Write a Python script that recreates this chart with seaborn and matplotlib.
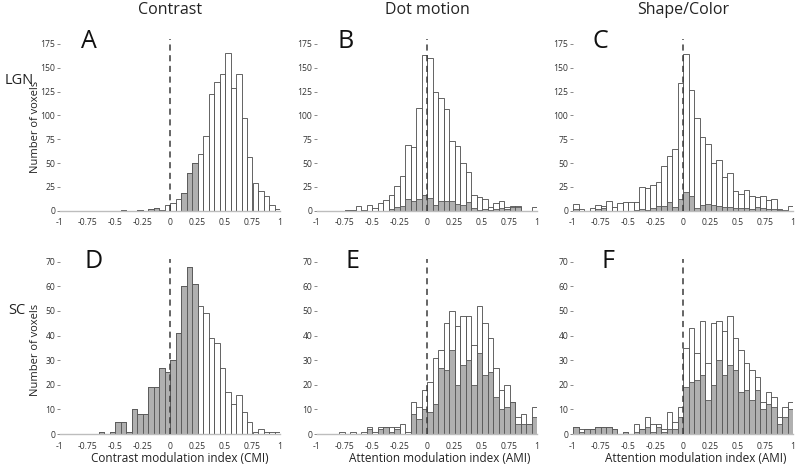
import numpy as np
import pandas as pd
import matplotlib
matplotlib.use("Agg")
import matplotlib.pyplot as plt
import seaborn as sns

# bin edges: -1 .. 1 in steps of 0.05 (40 bins)
edges = np.round(np.arange(-1, 1.0001, 0.05), 2)
centers = (edges[:-1] + edges[1:]) / 2

# LGN (top row), counts per bin: all voxels (white) and significant voxels (gray)
lgn_contrast_all = [0, 0, 0, 0, 0, 0, 0, 0, 0, 0, 0, 1, 0, 0, 1, 0, 2, 3, 1, 6,
                    8, 12, 19, 40, 50, 59, 78, 122, 135, 143, 166, 129, 143, 97, 56, 29, 21, 15, 6, 2]
lgn_contrast_sig = [0, 0, 0, 0, 0, 0, 0, 0, 0, 0, 0, 1, 0, 0, 1, 0, 2, 3, 0, 0,
                    0, 0, 19, 40, 50, 0, 0, 0, 0, 0, 0, 0, 0, 0, 0, 0, 0, 0, 0, 0]
lgn_motion_all = [0, 0, 0, 0, 0, 1, 1, 5, 1, 6, 3, 8, 11, 16, 26, 36, 69, 67, 108, 163,
                  160, 125, 118, 107, 73, 68, 50, 41, 16, 14, 12, 4, 8, 10, 4, 5, 5, 0, 0, 4]
lgn_motion_sig = [0, 0, 0, 0, 0, 1, 1, 0, 0, 0, 0, 0, 0, 2, 4, 5, 12, 10, 12, 16,
                  13, 6, 10, 10, 10, 7, 6, 9, 3, 1, 2, 1, 2, 3, 2, 4, 4, 0, 0, 0]
lgn_shape_all = [7, 2, 0, 3, 6, 5, 10, 4, 8, 9, 9, 9, 25, 24, 27, 30, 47, 57, 65, 134,
                 165, 127, 97, 77, 70, 50, 53, 35, 40, 21, 18, 22, 15, 14, 15, 11, 12, 2, 1, 5]
lgn_shape_sig = [2, 0, 0, 0, 2, 3, 0, 0, 0, 0, 0, 1, 2, 1, 3, 5, 5, 9, 4, 12,
                 20, 15, 3, 6, 7, 6, 5, 4, 4, 3, 3, 3, 2, 4, 3, 2, 2, 1, 0, 0]

# SC (bottom row)
sc_contrast_all = [0, 0, 0, 0, 0, 0, 0, 1, 0, 1, 5, 5, 1, 10, 8, 8, 19, 19, 27, 25,
                   30, 41, 60, 68, 61, 52, 49, 39, 37, 27, 17, 12, 16, 9, 5, 1, 2, 1, 1, 1]
sc_contrast_sig = [0, 0, 0, 0, 0, 0, 0, 1, 0, 1, 5, 5, 1, 10, 8, 8, 19, 19, 27, 25,
                   30, 41, 60, 68, 61, 0, 0, 0, 0, 0, 0, 0, 0, 0, 0, 0, 0, 0, 0, 0]
sc_motion_all = [0, 0, 0, 0, 1, 0, 1, 0, 1, 3, 1, 3, 3, 3, 3, 4, 1, 13, 11, 18,
                 21, 31, 34, 45, 50, 44, 48, 48, 36, 52, 45, 39, 27, 18, 20, 13, 7, 8, 4, 11]
sc_motion_sig = [0, 0, 0, 0, 0, 0, 0, 0, 0, 2, 0, 2, 3, 1, 2, 0, 0, 8, 6, 10,
                 9, 12, 27, 26, 34, 20, 28, 30, 20, 33, 24, 25, 15, 10, 11, 13, 4, 4, 4, 7]
sc_shape_all = [3, 2, 2, 2, 3, 3, 3, 2, 0, 1, 0, 4, 2, 7, 4, 4, 2, 9, 5, 11,
                35, 43, 33, 46, 29, 45, 46, 42, 48, 39, 34, 29, 26, 23, 13, 17, 15, 7, 11, 13]
sc_shape_sig = [3, 1, 2, 2, 3, 3, 3, 2, 0, 1, 0, 1, 2, 3, 1, 3, 1, 2, 2, 7,
                19, 21, 22, 24, 14, 20, 30, 24, 28, 26, 17, 18, 14, 18, 10, 12, 11, 4, 7, 10]

xticks = [-1, -0.75, -0.5, -0.25, 0, 0.25, 0.5, 0.75, 1]
xtick_labels = ['-1', '-0.75', '-0.5', '-0.25', '0', '0.25', '0.5', '0.75', '1']
col_titles = ['Contrast', 'Dot motion', 'Shape/Color']
row_labels = ['LGN', 'SC']
panel_letters = ['A', 'B', 'C', 'D', 'E', 'F']
xlabels = ['Contrast modulation index (CMI)', 'Attention modulation index (AMI)',
           'Attention modulation index (AMI)']

sns.set_style("white")
plt.rcParams['font.family'] = ['Open Sans', 'DejaVu Sans']

fig = plt.figure(figsize=(7.95, 4.65), dpi=100)

W, H = 795.0, 465.0
col_left = [60, 317, 573]
ax_w = 220
rows = [
    dict(bottom=210.7, ymax=180, px_per=0.9526, yticks=list(range(0, 176, 25)),
         data=[(lgn_contrast_all, lgn_contrast_sig), (lgn_motion_all, lgn_motion_sig),
               (lgn_shape_all, lgn_shape_sig)]),
    dict(bottom=434.0, ymax=71, px_per=2.461, yticks=list(range(0, 71, 10)),
         data=[(sc_contrast_all, sc_contrast_sig), (sc_motion_all, sc_motion_sig),
               (sc_shape_all, sc_shape_sig)]),
]

axes = []
for r, row in enumerate(rows):
    h = row['ymax'] * row['px_per']
    for c in range(3):
        ax = fig.add_axes([col_left[c] / W, (H - row['bottom']) / H, ax_w / W, h / H])
        all_c, sig_c = row['data'][c]
        df = pd.DataFrame({'idx': centers, 'all': all_c, 'sig': sig_c})
        sns.histplot(data=df, x='idx', weights='all', binwidth=0.05, binrange=(-1, 1),
                     color='white', edgecolor='#4a4a4a', linewidth=0.6, alpha=1, ax=ax)
        sns.histplot(data=df, x='idx', weights='sig', binwidth=0.05, binrange=(-1, 1),
                     color='#b0b0b0', edgecolor='#555555', linewidth=0.6, alpha=1, ax=ax)
        ax.axvline(0, color='#3c3c3c', ls=(0, (4, 3)), lw=1.1, zorder=5)
        ax.set_xlim(-1, 1)
        ax.set_ylim(0, row['ymax'])
        ax.set_xticks(xticks)
        ax.set_xticklabels(xtick_labels)
        ax.set_yticks(row['yticks'])
        ax.set_xlabel('')
        ax.set_ylabel('')
        ax.patch.set_alpha(0)
        for s in ['top', 'right', 'left']:
            ax.spines[s].set_visible(False)
        ax.spines['bottom'].set_color('#bdbdbd')
        ax.spines['bottom'].set_linewidth(1.0)
        ax.tick_params(axis='y', left=True, length=2, width=0.6, color='#777777',
                       labelsize=6.2, labelcolor='#333333', pad=1.5)
        ax.tick_params(axis='x', bottom=False, labelsize=6.2, labelcolor='#333333', pad=2)
        axes.append(ax)

# column titles and row labels
for c, t in enumerate(col_titles):
    fig.text((col_left[c] + 110) / W, 1 - 10 / H, t, ha='center', va='center', fontsize=11.5, color='#222222')
fig.text(19 / W, 1 - 80 / H, row_labels[0], ha='center', va='center', fontsize=10.5, color='#222222')
fig.text(17 / W, 1 - 310 / H, row_labels[1], ha='center', va='center', fontsize=10.5, color='#222222')

# y labels
fig.text(36 / W, 1 - 127 / H, 'Number of voxels', rotation=90, ha='center', va='center', fontsize=8, color='#222222')
fig.text(36 / W, 1 - 350 / H, 'Number of voxels', rotation=90, ha='center', va='center', fontsize=8, color='#222222')

# x labels
for c, (xc, t) in enumerate(zip([180, 440, 696], xlabels)):
    fig.text(xc / W, 1 - 458 / H, t, ha='center', va='center', fontsize=8.5, color='#222222')

# panel letters
letter_pos = [(89, 41), (346, 41), (600, 41), (94, 261), (353, 261), (608, 261)]
for (lx, ly), letter in zip(letter_pos, panel_letters):
    fig.text(lx / W, 1 - ly / H, letter, ha='center', va='center', fontsize=18, color='#111111')

fig.savefig('out.png', dpi=100)
